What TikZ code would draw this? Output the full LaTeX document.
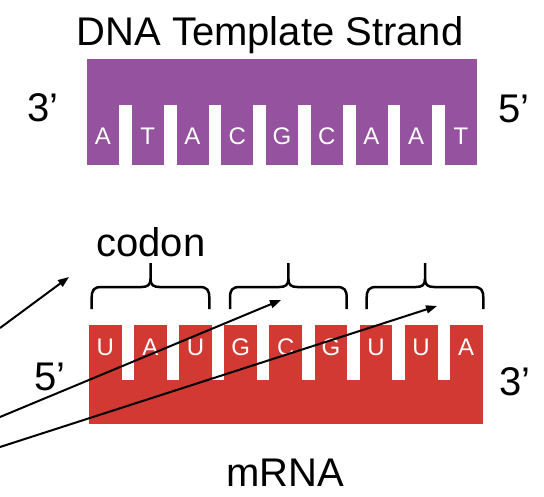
\documentclass[tikz,border=0pt]{standalone}
\usepackage{fontspec}
\setmainfont{Liberation Sans}
\usetikzlibrary{arrows.meta}
\definecolor{dnapurple}{RGB}{149,82,158}
\definecolor{rnared}{RGB}{209,57,50}
\newcommand{\cbrace}[2]{%
  \pgfmathsetmacro{\bm}{(#1+#2)/2}%
  \draw[bracestyle] (#1,309) -- (#1,298) .. controls (#1,290) and ({#1+2},287) .. ({#1+10},287) -- ({\bm-9},287) .. controls ({\bm-3},287) and (\bm,285) .. (\bm,279) -- (\bm,263);
  \draw[bracestyle] (#2,309) -- (#2,298) .. controls (#2,290) and ({#2-2},287) .. ({#2-10},287) -- ({\bm+9},287) .. controls ({\bm+3},287) and (\bm,285) .. (\bm,279);
}
\begin{document}
\begin{tikzpicture}[x=1pt,y=-1pt,
  lbl/.style={font=\fontsize{40}{48}\selectfont, inner sep=0pt},
  base/.style={font=\fontsize{24}{28}\selectfont, text=white, inner sep=0pt},
  bracestyle/.style={line width=2.5pt, line join=round, line cap=butt},
  arr/.style={line width=2pt, -{Triangle[length=11pt,width=8pt]}}]
\useasboundingbox (0,0) rectangle (544,496);
% DNA template strand
\fill[dnapurple] (87,59) rectangle (477,105);
\foreach \i in {0,...,8} \fill[dnapurple] ({87+\i*44.75},104) rectangle ({119+\i*44.75},165);
\foreach \l [count=\i from 0] in {A,T,A,C,G,C,A,A,T}
  \node[base] (d\i) at ({103+\i*44.75},136) {\l};
% mRNA
\fill[rnared] (89,380) rectangle (483,424);
\foreach \i in {0,...,8} \fill[rnared] ({89+\i*45.1},325) rectangle ({121.8+\i*45.1},381);
\foreach \l [count=\i from 0] in {U,A,U,G,C,G,U,U,A}
  \node[base] (r\i) at ({105.4+\i*45.1},347) {\l};
% labels
\node[lbl, anchor=base] (title) at (270,45) {DNA Template Strand};
\node[lbl] (dnathree) at (43,108) {3’};
\node[lbl] (dnafive) at (514,109) {5’};
\node[lbl] (rnafive) at (50,377) {5’};
\node[lbl] (rnathree) at (515,382) {3’};
\node[lbl, anchor=base] (codon) at (151,256.5) {codon};
\node[lbl, anchor=base] (mrna) at (285,486) {mRNA};
% braces
\cbrace{91.7}{209.3}
\cbrace{230}{346.7}
\cbrace{366.7}{483.3}
% arrows
\coordinate (a1s) at (0,328);
\coordinate (a1e) at (69,277);
\coordinate (a2s) at (0,417);
\coordinate (a2e) at (281,300);
\coordinate (a3s) at (0,447);
\coordinate (a3e) at (437,306);
\draw[arr] (a1s) -- (a1e);
\draw[arr] (a2s) -- (a2e);
\draw[arr] (a3s) -- (a3e);
\end{tikzpicture}
\end{document}
